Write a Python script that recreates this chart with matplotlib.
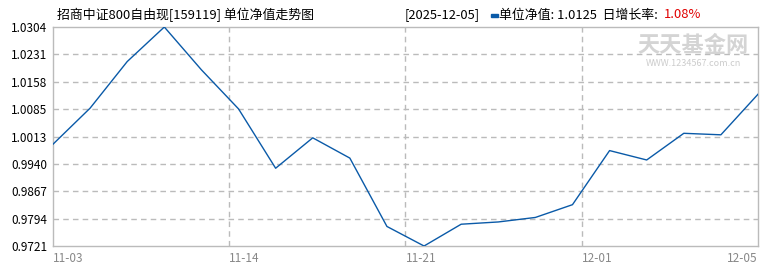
import numpy as np
import matplotlib
matplotlib.use("Agg")
import matplotlib.pyplot as plt
from matplotlib.patches import Rectangle

plt.rcParams['font.family'] = ['Noto Sans CJK SC', 'DejaVu Sans']

# unit NAV, one value per trading day shown
nav = [0.9992, 1.0088, 1.0212, 1.0304, 1.0190, 1.0086, 0.9928, 1.0009,
       0.9955, 0.9773, 0.9721, 0.9779, 0.9785, 0.9797, 0.9831, 0.9975,
       0.9950, 1.0021, 1.0017, 1.0125]
tick_labels = ["11-03", "11-14", "11-21", "12-01", "12-05"]

title = "招商中证800自由现[159119] 单位净值走势图"
date_txt = "[2025-12-05]"
nav_txt = "单位净值: 1.0125  日增长率: "
pct_txt = "1.08%"

fig = plt.figure(figsize=(7.7, 2.7), dpi=100)
ax = fig.add_axes([53 / 770, 1 - 246 / 270, 705 / 770, 219 / 270])

x = np.arange(len(nav))
ax.plot(x, nav, color="#0a5aa8", lw=1.0, zorder=3)

ymin, ymax = min(nav), max(nav)
yt = np.linspace(ymin, ymax, 9)
ax.set_ylim(ymin, ymax)
ax.set_xlim(0, len(nav) - 1)
ax.set_yticks(yt)
# round half up, like the original site
ax.set_yticklabels([f"{v + 1e-9:.4f}" for v in yt], fontsize=8.5,
                   color="black")
xt = np.linspace(0, len(nav) - 1, len(tick_labels))
ax.set_xticks(xt)
ax.set_xticklabels(tick_labels, fontsize=8.5, color="#888888")
ax.tick_params(length=0, pad=4)
for lbl in ax.get_xticklabels():
    lbl.set_horizontalalignment("left")
ax.get_xticklabels()[-1].set_horizontalalignment("right")

for v in yt[1:-1]:
    ax.axhline(v, color="#bbbbbb", lw=1, ls=(0, (4, 3)), zorder=1)
for v in xt[1:-1]:
    ax.axvline(v, color="#bbbbbb", lw=1, ls=(0, (4, 3)), zorder=1)
for s in ax.spines.values():
    s.set_color("#bbbbbb")
    s.set_linewidth(1)

# watermark
fig.text(693 / 770, 1 - 46 / 270, "天天基金网", fontsize=16, color="#d4d4d4",
         ha="center", va="center", fontweight="bold")
fig.text(693 / 770, 1 - 64 / 270, "WWW.1234567.com.cn", fontsize=6.5,
         color="#cccccc", ha="center", va="center")

# header
fig.text(57 / 770, 1 - 15 / 270, title, fontsize=9.3, va="center")
fig.text(405 / 770, 1 - 15 / 270, date_txt, fontsize=9.3, va="center")
fig.patches.append(Rectangle((491 / 770, 1 - 17 / 270), 7 / 770, 3 / 270,
                             transform=fig.transFigure, color="#0a5aa8"))
fig.text(499 / 770, 1 - 15 / 270, nav_txt, fontsize=9.3, va="center")
fig.text(664 / 770, 1 - 15 / 270, pct_txt, fontsize=9.3, va="center",
         color="#e00000")

fig.savefig("out.png", dpi=100)
